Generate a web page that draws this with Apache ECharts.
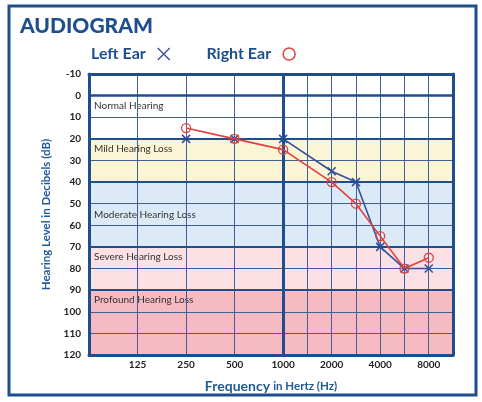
<!DOCTYPE html>
<html>
<head>
<meta charset="utf-8">
<script src="https://cdn.jsdelivr.net/npm/echarts@6/dist/echarts.min.js"></script>
<style>
  html, body { margin: 0; padding: 0; background: #fff; }
  #chart { width: 482px; height: 402px; }
</style>
</head>
<body>
<div id="chart"></div>
<script>
// half-octave positions along the frequency axis
var freqs = ['62.5', '90', '125', '180', '250', '375', '500', '750', '1000',
  '1500', '2000', '3000', '4000', '6000', '8000', '12000'];
var tickLabels = ['125', '250', '500', '1000', '2000', '4000', '8000'];
var gridFreqs = ['125', '250', '500', '1000', '1500', '2000', '3000', '4000', '6000', '8000'];

var leftFreq = ['250', '500', '1000', '2000', '3000', '4000', '6000', '8000'];
var leftDb = [20, 20, 20, 35, 40, 70, 80, 80];
var rightFreq = ['250', '500', '1000', '2000', '3000', '4000', '6000', '8000'];
var rightDb = [15, 20, 25, 40, 50, 65, 80, 75];

var bandNames = ['Normal Hearing', 'Mild Hearing Loss', 'Moderate Hearing Loss', 'Severe Hearing Loss', 'Profound Hearing Loss'];
var bandFrom = [0, 20, 40, 70, 90];
var bandTo = [20, 40, 70, 90, 120];
var bandColors = ['rgba(255,255,255,0)', '#fbf5d5', '#dce9f7', '#fbe0e4', '#f5bac2'];

var heavyDb = [0, 20, 40, 70, 90];

var navy = '#1f4e8c';
var font = 'Lato';

var chart = echarts.init(document.getElementById('chart'));

function pairs(xs, ys) {
  return xs.map(function (x, i) { return [x, ys[i]]; });
}

var bands = bandNames.map(function (n, i) {
  return [{
    name: n,
    yAxis: bandFrom[i],
    itemStyle: { color: bandColors[i] },
    label: { position: i == 2 ? 'insideLeft' : 'insideTopLeft' }
  }, { yAxis: bandTo[i] }];
});

var heavy = heavyDb.map(function (d) {
  return { yAxis: d, lineStyle: { width: d == 0 ? 2.5 : 2 } };
});
heavy.push({ xAxis: '1000', lineStyle: { width: 3 } });

var crossPath = 'path://M0,0 L10,10 M10,0 L0,10';

var option = {
  animation: false,
  textStyle: { fontFamily: font },
  title: {
    text: 'AUDIOGRAM',
    left: 20,
    top: 16,
    padding: 0,
    textStyle: { fontSize: 21, fontWeight: 900, color: navy, fontFamily: font }
  },
  graphic: [{
    type: 'rect',
    shape: { x: 9, y: 6, width: 467, height: 389 },
    style: { fill: 'none', stroke: navy, lineWidth: 3 },
    silent: true
  }],
  legend: {
    left: 86,
    top: 41,
    align: 'right',
    itemGap: 36,
    itemWidth: 12,
    itemHeight: 12,
    textStyle: { fontSize: 16, fontWeight: 'bold', color: navy, fontFamily: font, padding: [0, 7, 0, 0] },
    data: [
      { name: 'Left Ear', icon: crossPath, itemStyle: { color: '#34509a', borderColor: '#34509a', borderWidth: 1.3 } },
      { name: 'Right Ear', icon: 'circle', itemStyle: { color: 'rgba(0,0,0,0)', borderColor: '#e0403c', borderWidth: 1.5 } }
    ]
  },
  grid: { left: 89, right: 29, top: 74, bottom: 47 },
  xAxis: [{
    type: 'category',
    z: 3,
    data: freqs,
    boundaryGap: false,
    position: 'bottom',
    axisLine: { onZero: false, lineStyle: { color: navy, width: 3 } },
    axisTick: { show: false },
    axisLabel: {
      interval: function (i, v) { return tickLabels.indexOf(v) >= 0; },
      color: '#222', fontWeight: 'bold', fontSize: 10, margin: 5
    },
    splitLine: {
      show: true,
      interval: function (i, v) { return gridFreqs.indexOf(v) >= 0; },
      lineStyle: { color: '#3f5f95', width: 1 }
    },
    name: '{a|Frequency} {b|in Hertz (Hz)}',
    nameLocation: 'middle',
    nameGap: 24,
    nameTextStyle: {
      rich: {
        a: { fontSize: 14, fontWeight: 'bold', color: '#1f5a9a', fontFamily: font },
        b: { fontSize: 11.5, fontWeight: 'bold', color: '#1f5a9a', fontFamily: font }
      }
    }
  }, {
    type: 'category',
    z: 3,
    data: freqs,
    boundaryGap: false,
    position: 'top',
    axisLine: { onZero: false, lineStyle: { color: navy, width: 3 } },
    axisTick: { show: false },
    axisLabel: { show: false },
    splitLine: { show: false }
  }],
  yAxis: [{
    type: 'value',
    z: 3,
    inverse: true,
    min: -10,
    max: 120,
    interval: 10,
    axisLine: { show: true, onZero: false, lineStyle: { color: navy, width: 3 } },
    axisTick: { show: false },
    axisLabel: { color: '#222', fontWeight: 'bold', fontSize: 10, margin: 8 },
    splitLine: { lineStyle: { color: '#3f5f95', width: 1 } },
    name: 'Hearing Level in Decibels (dB)',
    nameLocation: 'middle',
    nameGap: 36,
    nameTextStyle: { fontSize: 11.5, fontWeight: 'bold', color: '#1f5a9a', fontFamily: font }
  }, {
    type: 'value',
    z: 3,
    inverse: true,
    min: -10,
    max: 120,
    interval: 10,
    position: 'right',
    axisLine: { show: true, onZero: false, lineStyle: { color: navy, width: 3 } },
    axisTick: { show: false },
    axisLabel: { show: false },
    splitLine: { show: false }
  }],
  series: [{
    name: 'bands',
    type: 'line',
    data: [],
    z: 1,
    silent: true,
    markArea: {
      silent: true,
      label: { color: '#333', fontSize: 10, distance: 5, fontFamily: font },
      data: bands
    },
    markLine: {
      silent: true,
      symbol: 'none',
      label: { show: false },
      lineStyle: { color: navy, type: 'solid' },
      data: heavy
    }
  }, {
    name: 'Left Ear',
    type: 'line',
    z: 4,
    data: pairs(leftFreq, leftDb),
    symbol: crossPath,
    symbolSize: 8,
    lineStyle: { color: '#34509a', width: 1.6 },
    itemStyle: { color: '#34509a', borderColor: '#34509a', borderWidth: 1.6 }
  }, {
    name: 'Right Ear',
    type: 'line',
    z: 5,
    data: pairs(rightFreq, rightDb),
    symbol: 'circle',
    symbolSize: 9,
    lineStyle: { color: '#e0403c', width: 1.6 },
    itemStyle: { color: 'rgba(0,0,0,0)', borderColor: '#e0403c', borderWidth: 1.3 }
  }]
};

chart.setOption(option);
</script>
</body>
</html>
